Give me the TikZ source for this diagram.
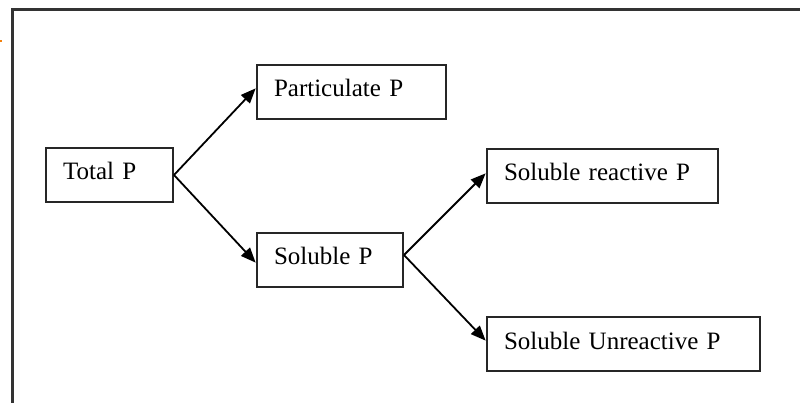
\documentclass[tikz,border=0pt]{standalone}
\usepackage{fontspec}
\setmainfont{Liberation Serif}
\usetikzlibrary{arrows.meta}
\begin{document}
\begin{tikzpicture}[x=1pt,y=-1pt,
  pbox/.style={draw=black!85,line width=2pt,anchor=north west,
    minimum height=54pt,inner xsep=17pt,inner ysep=0pt,align=left,
    text height=17pt,text depth=7pt,
    font=\fontsize{25}{30}\selectfont},
  flow/.style={draw=black,line width=1.8pt,
    -{Triangle[length=15pt,width=12pt]},shorten >=0.5pt}]
\useasboundingbox (0,0) rectangle (800,403);
\fill[white] (0,0) rectangle (800,403);
% frame of the figure
\draw[black!80,line width=2.8pt] (12.5,403) -- (12.5,9.5) -- (800,9.5);
% small anchor mark
\fill[orange!80!brown] (0,40) rectangle (2,42);
% boxes
\node[pbox,text width=127pt-34pt] (tp)  at (45,147)  {Total P};
\node[pbox,text width=189pt-34pt] (pp)  at (256,64)  {Particulate P};
\node[pbox,text width=146pt-34pt] (sp)  at (256,232) {Soluble P};
\node[pbox,text width=231pt-34pt] (srp) at (486,148) {Soluble reactive P};
\node[pbox,text width=273pt-34pt] (sup) at (486,316) {Soluble Unreactive P};
% connectors
\draw[flow] (tp.east) -- ([yshift=4pt]pp.west);
\draw[flow] (tp.east) -- ([yshift=-3pt]sp.west);
\draw[flow] ([yshift=5pt]sp.east) -- ([yshift=3pt]srp.west);
\draw[flow] ([yshift=5pt]sp.east) -- ([yshift=3pt]sup.west);
\end{tikzpicture}
\end{document}
